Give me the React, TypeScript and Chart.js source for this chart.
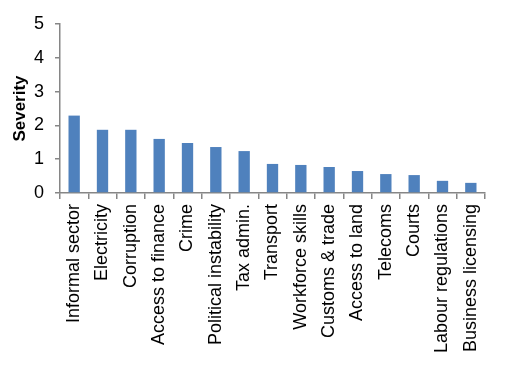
import React, { useEffect, useRef } from "react";
import { Chart, registerables } from "chart.js";

Chart.register(...registerables);

const categories = [
  "Informal sector",
  "Electricity",
  "Corruption",
  "Access to finance",
  "Crime",
  "Political instability",
  "Tax admin.",
  "Transport",
  "Workforce skills",
  "Customs & trade",
  "Access to land",
  "Telecoms",
  "Courts",
  "Labour regulations",
  "Business licensing",
];
const severity = [2.29, 1.87, 1.87, 1.6, 1.48, 1.36, 1.24, 0.86, 0.83, 0.77, 0.65, 0.56, 0.53, 0.36, 0.3];
const yTitle = "Severity";

const FONT = "'Liberation Sans', Arial, sans-serif";
const AXIS = "#868686";

export default function App() {
  const ref = useRef<HTMLCanvasElement>(null);
  useEffect(() => {
    const chart = new Chart(ref.current!, {
      type: "bar",
      data: {
        labels: categories,
        datasets: [
          {
            data: severity,
            backgroundColor: "#4F81BD",
            categoryPercentage: 1,
            barPercentage: 0.4,
          },
        ],
      },
      options: {
        animation: false,
        responsive: false,
        layout: { padding: { left: 0, right: 23, top: 24, bottom: 30 } },
        plugins: { legend: { display: false }, tooltip: { enabled: false } },
        scales: {
          x: {
            afterFit: (s: any) => {
              s.height = 163;
            },
            border: { color: AXIS, width: 1.5 },
            grid: { drawOnChartArea: false, drawTicks: true, tickLength: 6, color: AXIS, lineWidth: 1.5, offset: true },
            ticks: {
              minRotation: 90,
              maxRotation: 90,
              autoSkip: false,
              color: "#000",
              padding: 5,
              font: { family: FONT, size: 18 },
            },
          },
          y: {
            min: 0,
            max: 5,
            afterFit: (s: any) => {
              s.width = 60;
            },
            border: { color: AXIS, width: 1.5 },
            grid: { drawOnChartArea: false, drawTicks: true, tickLength: 5, color: AXIS, lineWidth: 1.5 },
            ticks: {
              stepSize: 1,
              color: "#000",
              padding: 11,
              font: { family: FONT, size: 18 },
            },
            title: {
              display: true,
              text: yTitle,
              color: "#000",
              padding: { top: 10, bottom: 0 },
              font: { family: FONT, size: 17, weight: "bold" },
            },
          },
        },
      },
    });
    return () => chart.destroy();
  }, []);
  return (
    <div style={{ position: "fixed", left: 0, top: 0, width: 508, height: 386, background: "#fff" }}>
      <canvas ref={ref} width={508} height={386} />
    </div>
  );
}
